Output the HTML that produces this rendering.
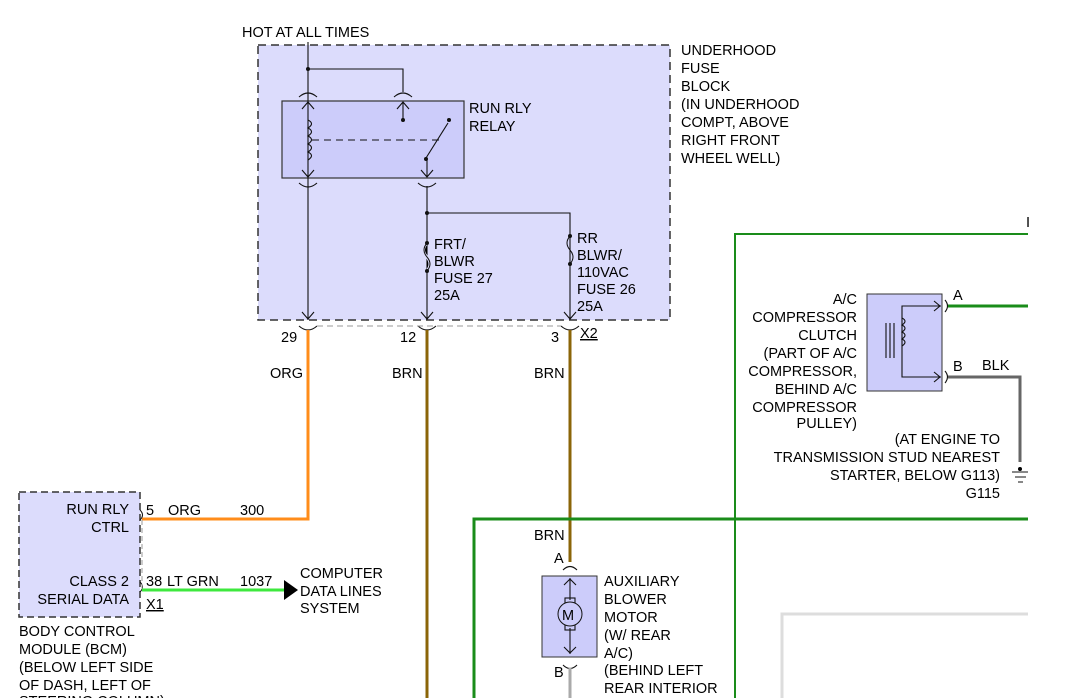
<!DOCTYPE html>
<html><head><style>body{margin:0;background:#fff}svg{display:block}text{font-family:"Liberation Sans",sans-serif;font-size:14.5px;fill:#000}</style></head><body>
<svg width="1080" height="698" viewBox="0 0 1080 698">
<rect x="258" y="45" width="412" height="275" fill="#dcdcfc" stroke="#333" stroke-width="1.5" stroke-dasharray="8,5"/>
<text x="242" y="37">HOT AT ALL TIMES</text>
<g><text x="681" y="55">UNDERHOOD</text><text x="681" y="73">FUSE</text><text x="681" y="91">BLOCK</text><text x="681" y="109">(IN UNDERHOOD</text><text x="681" y="127">COMPT, ABOVE</text><text x="681" y="145">RIGHT FRONT</text><text x="681" y="163">WHEEL WELL)</text></g>
<rect x="282" y="101" width="182" height="77" fill="#ccccfa" stroke="#333" stroke-width="1.2"/>
<g stroke="#111" stroke-width="1.1" fill="none">
<path d="M308 42V320M308 69H403V92"/>
<path d="M299 97q9-8 18 0M394 97q9-8 18 0"/>
<path d="M302 109l6-7 6 7M397 109l6-7 6 7M403 102V120"/>
<path d="M308 120q7 3.5 0 8q7 3.5 0 8q7 3.5 0 8q7 3.5 0 8q7 3.5 0 8"/>
<path d="M312 140H440" stroke-dasharray="7,5"/>
<path d="M426 158L448 123"/>
<path d="M302 170l6 7 6-7M421 170l6 7 6-7M427 158V177"/>
<path d="M299 183q9 8 18 0M418 183q9 8 18 0"/>
<path d="M427 186V320M427 213H570V320"/>
<path d="M302 312l6 7 6-7M421 312l6 7 6-7M564 312l6 7 6-7"/>
<path d="M299 326q9 8 18 0M418 326q9 8 18 0M561 326q9 8 18 0"/>
<path d="M317 326H561" stroke="#999" stroke-dasharray="6,4"/>
</g>
<path d="M427 243q-7 7 0 14q6 7 0 14" stroke="#dcdcfc" stroke-width="3"/>
<path d="M427 243q-6 7 0 14q6 7 0 14" stroke="#111" fill="none"/>
<path d="M570 236q-6 7 0 14q6 7 0 14" stroke="#111" fill="none"/>
<g fill="#111"><circle cx="308" cy="69" r="2"/><circle cx="403" cy="120" r="2"/><circle cx="449" cy="120" r="2"/><circle cx="426" cy="159" r="2"/><circle cx="427" cy="213" r="2"/><circle cx="427" cy="243" r="2"/><circle cx="427" cy="271" r="2"/><circle cx="570" cy="236" r="2"/><circle cx="570" cy="264" r="2"/></g>
<text x="469" y="113">RUN RLY</text><text x="469" y="131">RELAY</text>
<text x="434" y="249">FRT/</text><text x="434" y="266">BLWR</text><text x="434" y="283">FUSE 27</text><text x="434" y="300">25A</text>
<text x="577" y="243">RR</text><text x="577" y="260">BLWR/</text><text x="577" y="277">110VAC</text><text x="577" y="294">FUSE 26</text><text x="577" y="311">25A</text>
<text x="281" y="342">29</text><text x="400" y="342">12</text><text x="551" y="342">3</text><text x="580" y="338" text-decoration="underline">X2</text>
<text x="270" y="378">ORG</text><text x="392" y="378">BRN</text><text x="534" y="378">BRN</text>
<path d="M308 330V519H142" stroke="#ff8c1a" stroke-width="3" fill="none"/>
<path d="M427 330V698" stroke="#8b6508" stroke-width="3"/>
<path d="M570 330V562" stroke="#8b6508" stroke-width="3"/>
<path d="M735 698V234H1028" stroke="#1a8c1a" stroke-width="2" fill="none"/>
<path d="M474 698V519H1028" stroke="#1a8c1a" stroke-width="3" fill="none"/>
<path d="M782 698V614H1028" stroke="#ddd" stroke-width="3" fill="none"/>
<text x="1026" y="227">I</text>
<rect x="867" y="294" width="75" height="97" fill="#ccccfa" stroke="#333"/>
<g stroke="#111" fill="none" stroke-width="1.1"><path d="M941 306H902V377H941M934 301l6 5-6 5M934 372l6 5-6 5"/>
<path d="M902 318q6 3 0 7q6 3 0 7q6 3 0 7q6 3 0 7M886 323V358M890 323V358M894 323V358"/>
<path d="M945 300q5 6 0 12M945 371q5 6 0 12"/></g>
<path d="M948 306H1028" stroke="#1a8c1a" stroke-width="3"/>
<path d="M948 377H1020V462" stroke="#666" stroke-width="3" fill="none"/>
<g stroke="#111"><path d="M1012 472H1028M1015 477H1026M1018 482H1023"/></g><circle cx="1020" cy="469" r="2"/>
<text x="953" y="300">A</text><text x="953" y="371">B</text><text x="982" y="370">BLK</text>
<g text-anchor="end"><text x="857" y="304">A/C</text><text x="857" y="322">COMPRESSOR</text><text x="857" y="340">CLUTCH</text><text x="857" y="358">(PART OF A/C</text><text x="857" y="376">COMPRESSOR,</text><text x="857" y="394">BEHIND A/C</text><text x="857" y="412">COMPRESSOR</text><text x="857" y="428">PULLEY)</text>
<text x="1000" y="444">(AT ENGINE TO</text><text x="1000" y="462">TRANSMISSION STUD NEAREST</text><text x="1000" y="480">STARTER, BELOW G113)</text><text x="1000" y="498">G115</text></g>
<rect x="19" y="492" width="121" height="125" fill="#dcdcfc" stroke="#333" stroke-width="1.5" stroke-dasharray="7,4"/>
<g text-anchor="end"><text x="129" y="514">RUN RLY</text><text x="129" y="532">CTRL</text><text x="129" y="586">CLASS 2</text><text x="129" y="604">SERIAL DATA</text></g>
<path d="M140 510q5 5 0 10M140 582q5 5 0 10" stroke="#111" fill="none"/>
<path d="M142 520V592" stroke="#999" stroke-dasharray="5,3"/>
<text x="146" y="515">5</text><text x="168" y="515">ORG</text><text x="240" y="515">300</text>
<text x="146" y="586">38</text><text x="167" y="586">LT GRN</text><text x="240" y="586">1037</text>
<text x="146" y="609" text-decoration="underline">X1</text>
<path d="M142 590H286" stroke="#3ee83e" stroke-width="3"/>
<path d="M284 580L298 590L284 600Z" fill="#000"/>
<text x="300" y="578">COMPUTER</text><text x="300" y="596">DATA LINES</text><text x="300" y="613">SYSTEM</text>
<text x="19" y="636">BODY CONTROL</text><text x="19" y="654">MODULE (BCM)</text><text x="19" y="672">(BELOW LEFT SIDE</text><text x="19" y="690">OF DASH, LEFT OF</text><text x="19" y="706">STEERING COLUMN)</text>
<text x="534" y="540">BRN</text><text x="554" y="563">A</text><text x="554" y="677">B</text>
<rect x="542" y="576" width="55" height="81" fill="#ccccfa" stroke="#333"/>
<g stroke="#111" fill="none" stroke-width="1.1"><path d="M563 570q7-7 14 0M563 665q7 7 14 0M570 578V600M570 628V654M564 585l6-6 6 6M564 647l6 6 6-6"/>
<rect x="565" y="598" width="10" height="32"/></g>
<circle cx="570" cy="614" r="12" fill="#ccccfa" stroke="#111"/>
<text x="562" y="620" font-size="15">M</text>
<path d="M570 668V698" stroke="#aaa" stroke-width="3"/>
<text x="604" y="586">AUXILIARY</text><text x="604" y="604">BLOWER</text><text x="604" y="622">MOTOR</text><text x="604" y="640">(W/ REAR</text><text x="604" y="658">A/C)</text><text x="604" y="675">(BEHIND LEFT</text><text x="604" y="693">REAR INTERIOR</text>
</svg>
</body></html>
